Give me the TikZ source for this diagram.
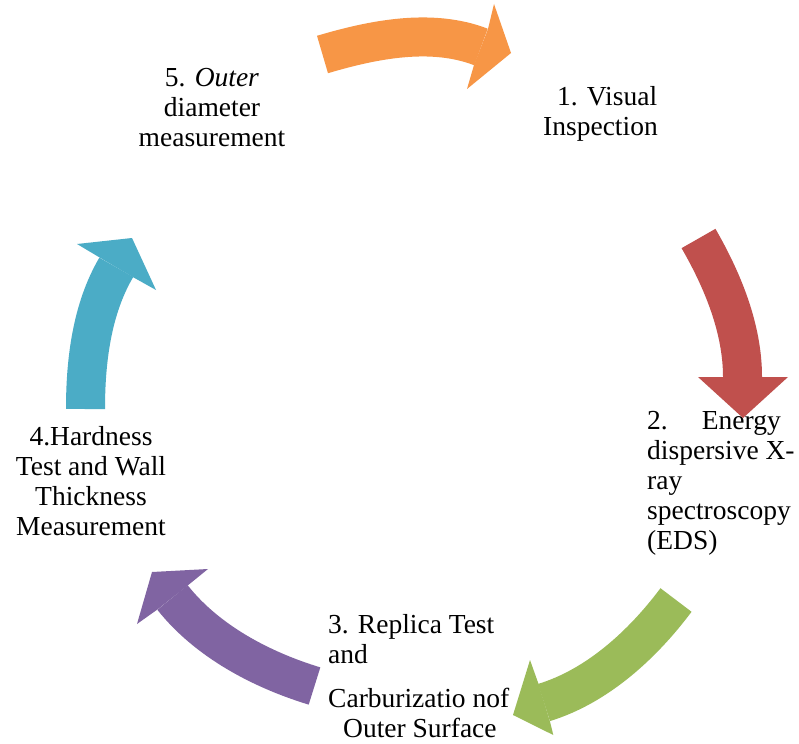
\documentclass[tikz,border=0pt]{standalone}
\usepackage{fontspec}
\setmainfont{Liberation Serif}
\definecolor{stepOrange}{HTML}{F79646}
\definecolor{stepRed}{HTML}{C0504D}
\definecolor{stepGreen}{HTML}{9BBB59}
\definecolor{stepPurple}{HTML}{8064A2}
\definecolor{stepCyan}{HTML}{4BACC6}
\newcommand\cycleitemfont{\fontsize{27.5}{30}\selectfont}
\begin{document}
\begin{tikzpicture}[x=1pt,y=-1pt,
  shaft/.style={line width=39pt},
  item/.style={font=\cycleitemfont, inner sep=0pt, text=black}]
\useasboundingbox[fill=white] (0,0) rectangle (799,743);

% ---- step labels (base anchor = baseline of the last line) ----
\node[item, align=left, anchor=base west] (s1) at (543,136)
  {\hspace*{14pt}1. Visual\\Inspection};
\node[item, align=left, anchor=base west] (s2) at (647,549)
  {2.\hspace{34pt}Energy\\dispersive X-\\ray\\spectroscopy\\(EDS)};
\node[item, align=left, anchor=base west] (s3) at (328,737)
  {3. Replica Test\\and\\[14pt]Carburizatio nof\\\hspace*{15pt}Outer Surface};
\node[item, align=center, anchor=base] (s4) at (91,535)
  {4.Hardness\\Test and Wall\\Thickness\\Measurement};
\node[item, align=center, anchor=base] (s5) at (212,147)
  {5. \textit{Outer}\\diameter\\measurement};

% ---- curved arrows between the steps ----
% 5 -> 1
\fill[stepOrange] (488,29) -- (494,4) -- (511,53) -- (467,89) -- (474,65) -- cycle;
\draw[shaft, stepOrange] (322.5,54.5) .. controls (373.3,39.4) and (431.6,27.8) .. (481,47);
% 1 -> 2
\fill[stepRed] (723,377) -- (698,377) -- (743,418) -- (788,377) -- (762,377) -- cycle;
\draw[shaft, stepRed] (698.5,238.5) .. controls (722.7,280.5) and (742.5,328.5) .. (742.5,377);
% 2 -> 3
\fill[stepGreen] (538.3,683.3) -- (530,660) -- (513,715) -- (553.3,735) -- (550,721.7) -- cycle;
\draw[shaft, stepGreen] (676,600) .. controls (642.6,644.6) and (597.3,686.2) .. (544,702.5);
% 3 -> 4
\fill[stepPurple] (188.3,585) -- (208,569) -- (152,572) -- (137,624) -- (156.7,610) -- cycle;
\draw[shaft, stepPurple] (314.5,686) .. controls (261.1,669.7) and (207.1,641.2) .. (172.5,597.5);
% 4 -> 5
\fill[stepCyan] (99.3,257.3) -- (77,244) -- (132,238) -- (156,290) -- (133.3,277.3) -- cycle;
\draw[shaft, stepCyan] (85.5,409) .. controls (85.5,360.7) and (91.8,308.9) .. (116.3,267.3);
\end{tikzpicture}
\end{document}
